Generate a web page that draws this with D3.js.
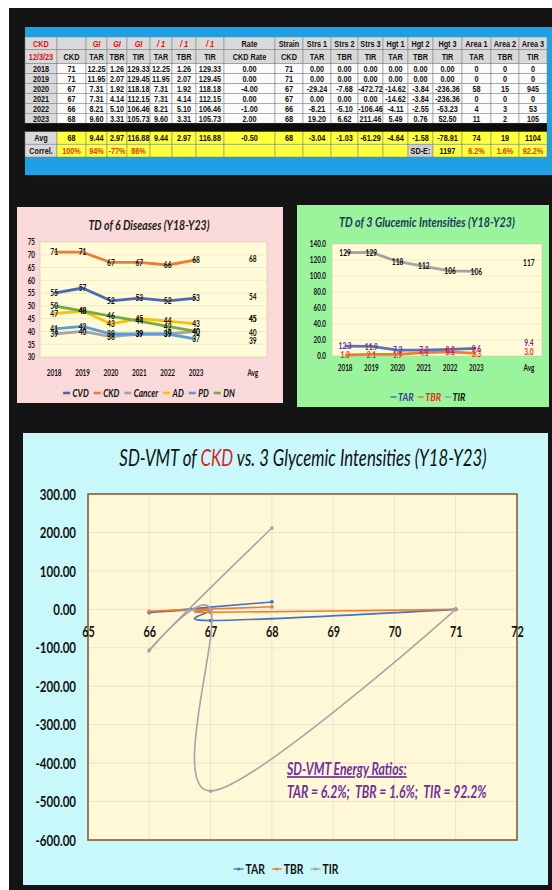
<!DOCTYPE html>
<html>
<head>
<meta charset="utf-8">
<script src="https://cdn.jsdelivr.net/npm/d3@7/dist/d3.min.js"></script>
<style>
  html, body { margin: 0; padding: 0; background: #fff; }
  svg { display: block; }
</style>
</head>
<body>
<svg id="page" width="552" height="890"></svg>
<script>
// ---------- table columns (Y18–Y23) ----------
const years    = ["2018", "2019", "2020", "2021", "2022", "2023"];
const ckd      = [71, 71, 67, 67, 66, 68];
const tarGI    = [12.25, 11.95, 7.31, 7.31, 8.21, 9.60];
const tbrGI    = [1.26, 2.07, 1.92, 4.14, 5.10, 3.31];
const tirGI    = [129.33, 129.45, 118.18, 112.15, 106.46, 105.73];
const tar1     = [12.25, 11.95, 7.31, 7.31, 8.21, 9.60];
const tbr1     = [1.26, 2.07, 1.92, 4.14, 5.10, 3.31];
const tir1     = [129.33, 129.45, 118.18, 112.15, 106.46, 105.73];
const ckdRate  = [0, 0, -4, 0, -1, 2];
const strain   = [71, 71, 67, 67, 66, 68];
const strs1    = [0, 0, -29.24, 0, -8.21, 19.20];
const strs2    = [0, 0, -7.68, 0, -5.10, 6.62];
const strs3    = [0, 0, -472.72, 0, -106.46, 211.46];
const hgt1     = [0, 0, -14.62, -14.62, -4.11, 5.49];
const hgt2     = [0, 0, -3.84, -3.84, -2.55, 0.76];
const hgt3     = [0, 0, -236.36, -236.36, -53.23, 52.50];
const area1    = [0, 0, 58, 0, 4, 11];
const area2    = [0, 0, 15, 0, 3, 2];
const area3    = [0, 0, 945, 0, 53, 105];
const avgRow   = [68, 9.44, 2.97, 116.88, 9.44, 2.97, 116.88, -0.50, 68, -3.04, -1.03, -61.29, -4.64, -1.58, -78.91, 74, 19, 1104];
const correl   = ["100%", "94%", "-77%", "86%"];
const sdE      = 1197;
const energy   = ["6.2%", "1.6%", "92.2%"];
const head1 = ["CKD", "", "GI", "GI", "GI", "/ 1", "/ 1", "/ 1", "Rate", "Strain", "Strs 1", "Strs 2", "Strs 3", "Hgt 1", "Hgt 2", "Hgt 3", "Area 1", "Area 2", "Area 3"];
const head2 = ["12/3/23", "CKD", "TAR", "TBR", "TIR", "TAR", "TBR", "TIR", "CKD Rate", "CKD", "TAR", "TBR", "TIR", "TAR", "TBR", "TIR", "TAR", "TBR", "TIR"];

// ---------- TD of 6 diseases ----------
const diseases = ["CVD", "CKD", "Cancer", "AD", "PD", "DN"];
const cvd    = [55, 57, 52, 53, 52, 53];
const ckdTD  = [71, 71, 67, 67, 66, 68];
const cancer = [39, 40, 38, 39, 39, 40];
const ad     = [47, 48, 43, 45, 44, 43];
const pd     = [41, 42, 39, 39, 39, 37];
const dn     = [50, 48, 46, 44, 42, 40];

// ---------- axis ticks ----------
const tdCategories = [...years, "", "Avg"];
const tdTicks   = [30, 35, 40, 45, 50, 55, 60, 65, 70, 75];
const gluTicks  = [0, 20, 40, 60, 80, 100, 120, 140];
const vmtXTicks = [65, 66, 67, 68, 69, 70, 71, 72];
const vmtYTicks = [300, 200, 100, 0, -100, -200, -300, -400, -500, -600];
const glyNames  = ["TAR", "TBR", "TIR"];

// ---------- helpers ----------
const K = 0.72;                       // horizontal squeeze of chart lettering
const FONT = "Lato, 'Open Sans', sans-serif";
const svg = d3.select("#page");

function squeeze(sel, k = K) {
  sel.each(function () {
    const t = d3.select(this);
    const x = +t.attr("x") || 0;
    t.attr("x", x / k).attr("transform", `scale(${k},1)`);
  });
}
function txt(parent, x, y, str, o = {}) {
  const k = o.k || K;
  return parent.append("text")
    .attr("x", x / k).attr("y", y)
    .attr("transform", `scale(${k},1)`)
    .attr("font-family", o.family || FONT)
    .attr("font-size", o.size || 10)
    .attr("font-weight", o.weight || "bold")
    .attr("font-style", o.style || "normal")
    .attr("fill", o.fill || "#111")
    .attr("text-anchor", o.anchor || "middle")
    .text(str);
}
function legend(parent, items, cx, cy, o) {
  const k = o.k || K;
  const g = parent.append("g");
  const parts = items.map(it => {
    const t = g.append("text")
      .attr("font-family", o.family || FONT).attr("font-size", o.size)
      .attr("font-weight", "bold").attr("font-style", o.style || "normal")
      .attr("fill", it.textColor || "#111").text(it.label);
    return { it, t, w: t.node().getComputedTextLength() * k };
  });
  const total = d3.sum(parts, p => o.line + o.pad + p.w) + o.gap * (parts.length - 1);
  let x = cx - total / 2;
  parts.forEach(p => {
    g.append("line").attr("x1", x).attr("x2", x + o.line)
      .attr("y1", cy).attr("y2", cy)
      .attr("stroke", p.it.color).attr("stroke-width", o.lw);
    if (o.marker) g.append("circle").attr("cx", x + o.line / 2).attr("cy", cy).attr("r", o.marker).attr("fill", p.it.color);
    x += o.line + o.pad;
    p.t.attr("x", x / k).attr("y", cy + o.size * 0.36).attr("transform", `scale(${k},1)`);
    x += p.w + o.gap;
  });
}

// ---------- page ----------
svg.append("rect").attr("width", 552).attr("height", 890).attr("fill", "#fff");
svg.append("rect").attr("x", 9).attr("y", 8).attr("width", 543).attr("height", 882).attr("fill", "#141414");

// =================== TABLE ===================
const TK = 0.76;
const TF = "'Liberation Sans', Arial, sans-serif";
const TS = 9.6;
const tX0 = 25;
const colW = [32, 29, 21, 20, 23, 22, 24, 28, 51, 28, 28, 27, 25, 25, 25, 29, 29, 28, 28];
const colX = [tX0, ...Array.from(d3.cumsum(colW), c => tX0 + c)];
const tbl = svg.append("g");
tbl.append("rect").attr("x", 25).attr("y", 27).attr("width", 527).attr("height", 148).attr("fill", "#1ea1e4");

const tableCols = [ckd, tarGI, tbrGI, tirGI, tar1, tbr1, tir1, ckdRate, strain, strs1, strs2, strs3, hgt1, hgt2, hgt3, area1, area2, area3];
const colFmt = [0, 2, 2, 2, 2, 2, 2, 2, 0, 2, 2, 2, 2, 2, 2, 0, 0, 0];
const GRAY = "#d9d9d9", YEL = "#ffff3c", RED = "#d81010", ORG = "#e0401a";

const rows = [];
rows.push({ y: 37, h: 12.5, cells: head1.map((s, i) => ({
  s, fill: GRAY,
  color: (i === 0 || (i >= 2 && i <= 7)) ? RED : "#111",
  italic: i >= 2 && i <= 7 })) });
rows.push({ y: 49.5, h: 14, cells: head2.map((s, i) => ({ s, fill: GRAY, color: i === 0 ? RED : "#111" })) });
years.forEach((yr, r) => {
  rows.push({ y: 63.5 + r * 9.95, h: 9.95, cells: [{ s: yr, fill: GRAY, color: "#111" },
    ...tableCols.map((col, c) => ({ s: col[r].toFixed(colFmt[c]), fill: "#fbfbfb", color: "#111" }))] });
});
rows.push({ y: 131.5, h: 12.7, cells: [{ s: "Avg", fill: GRAY, color: "#111" },
  ...avgRow.map((v, c) => ({ s: v.toFixed(colFmt[c]), fill: YEL, color: "#111" }))] });
rows.push({ y: 144.2, h: 12.8, cells: d3.range(19).map(c => {
  if (c === 0) return { s: "Correl.", fill: GRAY, color: "#111" };
  if (c <= 4) return { s: correl[c - 1], fill: YEL, color: ORG };
  if (c === 14) return { s: "SD-E:", fill: "#cfcfcf", color: "#111" };
  if (c === 15) return { s: String(sdE), fill: YEL, color: "#111" };
  if (c >= 16) return { s: energy[c - 16], fill: YEL, color: ORG };
  return { s: "", fill: YEL, color: "#111" };
}) });

rows.forEach(row => {
  const rg = tbl.append("g");
  rg.selectAll("rect").data(row.cells).join("rect")
    .attr("x", (d, i) => colX[i]).attr("y", row.y)
    .attr("width", (d, i) => colW[i]).attr("height", row.h)
    .attr("fill", d => d.fill).attr("stroke", "#7d7d7d").attr("stroke-width", 0.5);
  rg.selectAll("text").data(row.cells).join("text")
    .attr("x", (d, i) => colX[i] + colW[i] / 2)
    .attr("y", row.y + row.h / 2 + TS * 0.36)
    .attr("text-anchor", "middle")
    .attr("font-family", TF).attr("font-size", TS).attr("font-weight", "bold")
    .attr("font-style", d => d.italic ? "italic" : "normal")
    .attr("fill", d => d.color).text(d => d.s)
    .call(sel => squeeze(sel, TK));
});
tbl.append("rect").attr("x", 25).attr("y", 123.2).attr("width", 522).attr("height", 8.3).attr("fill", "#0d0d0d");

// =================== TD OF 6 DISEASES ===================
const c1 = svg.append("g");
c1.append("rect").attr("x", 17).attr("y", 207).attr("width", 266).attr("height", 196).attr("fill", "#f9d9d9");
const p1 = { l: 40, r: 267, t: 242, b: 357 };
c1.append("rect").attr("x", p1.l).attr("y", p1.t).attr("width", p1.r - p1.l).attr("height", p1.b - p1.t)
  .attr("fill", "#fffbd8").attr("stroke", "#cfc6a6").attr("stroke-width", 0.6);
const x1 = d3.scaleBand().domain(tdCategories).range([p1.l, p1.r]);
const y1 = d3.scaleLinear().domain([30, 75]).range([p1.b, p1.t]);
const xc1 = c => x1(c) + x1.bandwidth() / 2;
c1.append("g").selectAll("line").data(tdTicks.slice(1, -1)).join("line")
  .attr("x1", p1.l).attr("x2", p1.r).attr("y1", d => y1(d)).attr("y2", d => y1(d))
  .attr("stroke", "#e3dcc0").attr("stroke-width", 0.6);
const ay1 = c1.append("g").attr("transform", `translate(${p1.l},0)`)
  .call(d3.axisLeft(y1).tickValues(tdTicks).tickSize(0).tickPadding(5));
ay1.select(".domain").remove();
ay1.selectAll("text").attr("font-family", FONT).attr("font-size", 8.8).attr("font-weight", "bold").attr("fill", "#111");
squeeze(ay1.selectAll("text"));
const ax1 = c1.append("g").attr("transform", `translate(0,${p1.b})`)
  .call(d3.axisBottom(x1).tickSize(0).tickPadding(13));
ax1.select(".domain").remove();
ax1.selectAll("text").attr("font-family", FONT).attr("font-size", 8.8).attr("font-weight", "bold").attr("fill", "#111");
squeeze(ax1.selectAll("text"));

const tdSeries = [
  { name: "CVD", values: cvd, color: "#4e67b3" },
  { name: "CKD", values: ckdTD, color: "#ed7d31" },
  { name: "Cancer", values: cancer, color: "#a5a5a5" },
  { name: "AD", values: ad, color: "#ffc000" },
  { name: "PD", values: pd, color: "#5b9bd5" },
  { name: "DN", values: dn, color: "#70ad47" }
];
const line1 = d3.line().x((d, i) => xc1(years[i])).y(d => y1(d));
c1.append("g").selectAll("path").data(tdSeries).join("path")
  .attr("d", s => line1(s.values)).attr("fill", "none")
  .attr("stroke", s => s.color).attr("stroke-width", 2.8).attr("stroke-linejoin", "round");
const lab1 = c1.append("g");
tdSeries.forEach(s => {
  s.values.forEach((v, i) => txt(lab1, xc1(years[i]), y1(v) + 3.2, String(v), { size: 9.2 }));
  const m = d3.mean(s.values);
  const dy = s.name === "Cancer" ? 7.5 : 0;
  txt(lab1, xc1("Avg"), y1(m) + 3.2 + dy, String(Math.round(m)), { size: 9.2 });
});
txt(c1, 149, 230, "TD of 6 Diseases  (Y18-Y23)", { size: 13.5, style: "italic", fill: "#1a1a1a", k: 0.78 });
legend(c1, tdSeries.map(s => ({ label: s.name, color: s.color })), 149, 393,
  { size: 10.5, style: "italic", line: 7, pad: 2.5, gap: 5, lw: 2.6, k: 0.78 });

// =================== TD OF 3 GLYCEMIC INTENSITIES ===================
const c2 = svg.append("g");
c2.append("rect").attr("x", 297).attr("y", 205).attr("width", 252).attr("height", 202).attr("fill", "#9af49b");
const p2 = { l: 332, r: 542, t: 244, b: 356 };
c2.append("rect").attr("x", p2.l).attr("y", p2.t).attr("width", p2.r - p2.l).attr("height", p2.b - p2.t)
  .attr("fill", "#fffbd8").attr("stroke", "#cfc6a6").attr("stroke-width", 0.6);
const x2 = d3.scaleBand().domain(tdCategories).range([p2.l, p2.r]);
const y2 = d3.scaleLinear().domain([0, 140]).range([p2.b, p2.t]);
const xc2 = c => x2(c) + x2.bandwidth() / 2;
c2.append("g").selectAll("line").data(gluTicks.slice(1, -1)).join("line")
  .attr("x1", p2.l).attr("x2", p2.r).attr("y1", d => y2(d)).attr("y2", d => y2(d))
  .attr("stroke", "#e3dcc0").attr("stroke-width", 0.6);
const ay2 = c2.append("g").attr("transform", `translate(${p2.l},0)`)
  .call(d3.axisLeft(y2).tickValues(gluTicks).tickFormat(d => d.toFixed(1)).tickSize(0).tickPadding(6));
ay2.select(".domain").remove();
ay2.selectAll("text").attr("font-family", FONT).attr("font-size", 8.8).attr("font-weight", "bold").attr("fill", "#111");
squeeze(ay2.selectAll("text"));
const ax2 = c2.append("g").attr("transform", `translate(0,${p2.b})`)
  .call(d3.axisBottom(x2).tickSize(0).tickPadding(9));
ax2.select(".domain").remove();
ax2.selectAll("text").attr("font-family", FONT).attr("font-size", 8.8).attr("font-weight", "bold").attr("fill", "#111");
squeeze(ax2.selectAll("text"));

const gluSeries = [
  { name: "TAR", values: tarGI, avg: avgRow[1], color: "#5a6fc2", label: "#6b2c93", dec: 1, avgDy: -6 },
  { name: "TBR", values: tbrGI, avg: avgRow[2], color: "#ed7d31", label: "#ff2a14", dec: 1, avgDy: -2 },
  { name: "TIR", values: tirGI, avg: avgRow[3], color: "#a3a3a3", label: "#111", dec: 0, avgDy: 0 }
];
const line2 = d3.line().x((d, i) => xc2(years[i])).y(d => y2(d));
c2.append("g").selectAll("path").data(gluSeries).join("path")
  .attr("d", s => line2(s.values)).attr("fill", "none")
  .attr("stroke", s => s.color).attr("stroke-width", 2.8).attr("stroke-linejoin", "round");
const lab2 = c2.append("g");
gluSeries.forEach(s => {
  s.values.forEach((v, i) => txt(lab2, xc2(years[i]), y2(v) + 3.2, v.toFixed(s.dec), { size: 9.2, fill: s.label }));
  txt(lab2, xc2("Avg"), y2(s.avg) + 3.2 + s.avgDy, s.avg.toFixed(s.dec), { size: 9.2, fill: s.label });
});
txt(c2, 427, 227, "TD of 3 Glucemic Intensities  (Y18-Y23)", { size: 14, style: "italic", fill: "#1d3a5c", k: 0.77 });
legend(c2, [
  { label: "TAR", color: "#5a6fc2", textColor: "#3f3a8e" },
  { label: "TBR", color: "#ed7d31", textColor: "#e0301a" },
  { label: "TIR", color: "#a3a3a3", textColor: "#111" }
], 428, 397, { size: 11.5, style: "italic", line: 6, pad: 1.5, gap: 4, lw: 1.6, k: 0.78 });

// =================== SD-VMT SCATTER ===================
const c3 = svg.append("g");
c3.append("rect").attr("x", 23).attr("y", 433).attr("width", 525).attr("height", 452).attr("fill", "#c9f8fb");
const p3 = { l: 88, r: 517, t: 494, b: 840 };
c3.append("rect").attr("x", p3.l).attr("y", p3.t).attr("width", p3.r - p3.l).attr("height", p3.b - p3.t)
  .attr("fill", "#fff8d6");
const x3 = d3.scaleLinear().domain([65, 72]).range([p3.l, p3.r]);
const y3 = d3.scaleLinear().domain([-600, 300]).range([p3.b, p3.t]);
c3.append("g").selectAll("line").data(vmtXTicks.slice(1, -1)).join("line")
  .attr("x1", d => x3(d)).attr("x2", d => x3(d)).attr("y1", p3.t).attr("y2", p3.b)
  .attr("stroke", "#e2ddd0").attr("stroke-width", 0.8);
c3.append("g").selectAll("line").data(vmtYTicks.slice(1, -1)).join("line")
  .attr("x1", p3.l).attr("x2", p3.r).attr("y1", d => y3(d)).attr("y2", d => y3(d))
  .attr("stroke", "#e2ddd0").attr("stroke-width", 0.8);
c3.append("rect").attr("x", p3.l).attr("y", p3.t).attr("width", p3.r - p3.l).attr("height", p3.b - p3.t)
  .attr("fill", "none").attr("stroke", "#8a5a36").attr("stroke-width", 1.6);
const ay3 = c3.append("g").attr("transform", `translate(${p3.l},0)`)
  .call(d3.axisLeft(y3).tickValues(vmtYTicks).tickFormat(d => d.toFixed(2)).tickSize(0).tickPadding(12));
ay3.select(".domain").remove();
ay3.selectAll("text").attr("font-family", FONT).attr("font-size", 16).attr("font-weight", "bold").attr("fill", "#111");
squeeze(ay3.selectAll("text"));
const ax3 = c3.append("g").attr("transform", `translate(0,${y3(0)})`)
  .call(d3.axisBottom(x3).tickValues(vmtXTicks).tickFormat(d3.format("d")).tickSize(0).tickPadding(17));
ax3.select(".domain").remove();
ax3.selectAll("text").attr("font-family", FONT).attr("font-size", 15).attr("font-weight", "bold").attr("fill", "#111");
squeeze(ax3.selectAll("text"));

const vmtSeries = [
  { name: "TAR", y: strs1, color: "#4472c4" },
  { name: "TBR", y: strs2, color: "#ed7d31" },
  { name: "TIR", y: strs3, color: "#a5a5a5" }
];
// smoothed scatter lines; repeated consecutive points collapse to one vertex
const line3 = d3.line().x(d => x3(d[0])).y(d => y3(d[1])).curve(d3.curveCardinal.tension(0));
vmtSeries.forEach(s => {
  const pts = d3.zip(strain, s.y);
  const path = pts.filter((p, i) => i === 0 || p[0] !== pts[i - 1][0] || p[1] !== pts[i - 1][1]);
  c3.append("path").attr("d", line3(path)).attr("fill", "none")
    .attr("stroke", s.color).attr("stroke-width", 1.6);
  c3.append("g").selectAll("circle").data(pts).join("circle")
    .attr("cx", d => x3(d[0])).attr("cy", d => y3(d[1])).attr("r", 1.9).attr("fill", s.color);
});

const title3 = c3.append("text").attr("x", 303 / 0.7).attr("y", 466).attr("transform", "scale(0.7,1)")
  .attr("text-anchor", "middle").attr("font-family", FONT).attr("font-size", 24)
  .attr("font-style", "italic").attr("fill", "#111");
title3.append("tspan").text("SD-VMT of ");
title3.append("tspan").attr("fill", "#e21b1b").text("CKD");
title3.append("tspan").text(" vs. 3 Glycemic Intensities  (Y18-Y23)");

txt(c3, 287, 775, "SD-VMT Energy Ratios:", { size: 17, style: "italic", fill: "#7030a0", anchor: "start", k: 0.72 })
  .attr("text-decoration", "underline");
txt(c3, 287, 798, glyNames.map((n, i) => `${n} = ${energy[i]};`).join("  ").replace(/;$/, ""),
  { size: 17, style: "italic", fill: "#7030a0", anchor: "start", k: 0.72 }).attr("xml:space", "preserve");

legend(c3, vmtSeries.map(s => ({ label: s.name, color: s.color })), 286, 869,
  { size: 14, line: 10, pad: 2, gap: 7, lw: 1.4, marker: 1.6, k: 0.74 });
</script>
</body>
</html>
